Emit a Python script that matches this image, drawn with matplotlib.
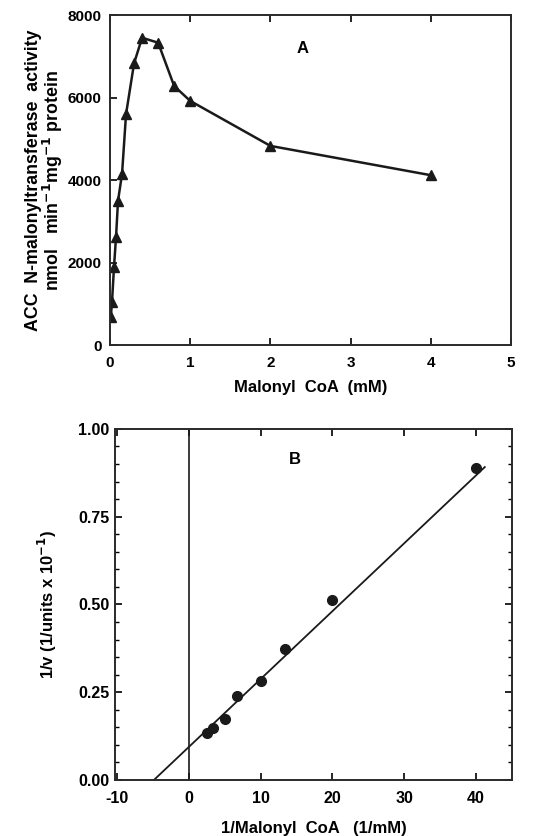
import matplotlib
matplotlib.use("Agg")
import matplotlib.pyplot as plt
import numpy as np
from matplotlib.ticker import MultipleLocator

plt.rcParams['font.family'] = ['Liberation Sans', 'DejaVu Sans']
plt.rcParams['font.weight'] = 'bold'
plt.rcParams['axes.unicode_minus'] = False

# Panel A data
malonyl_mM = [0.01, 0.025, 0.05, 0.075, 0.1, 0.15, 0.2, 0.3, 0.4, 0.6, 0.8, 1.0, 2.0, 4.0]
activity = [680, 1050, 1900, 2620, 3500, 4150, 5600, 6830, 7450, 7330, 6280, 5920, 4830, 4120]

# Panel B data (double reciprocal)
inv_malonyl = [2.5, 3.33, 5.0, 6.67, 10.0, 13.33, 20.0, 40.0]
inv_v = [0.135, 0.149, 0.175, 0.239, 0.282, 0.373, 0.512, 0.888]
fit_slope = 0.01935
fit_intercept = 0.094
fit_x_end = 41.2

fig = plt.figure(figsize=(5.34, 8.36), dpi=100)

axA = fig.add_axes([0.206, 0.587, 0.751, 0.395])
axA.plot(malonyl_mM, activity, color='#1a1a1a', lw=1.8, marker='^', ms=7.5, mec='#1a1a1a', mfc='#1a1a1a')
axA.set_xlim(0, 5)
axA.set_ylim(0, 8000)
axA.set_xticks([0, 1, 2, 3, 4, 5])
axA.set_yticks([0, 2000, 4000, 6000, 8000])
axA.tick_params(axis='x', direction='in', top=True, length=5, width=1.2, labelsize=11, pad=8)
axA.tick_params(axis='y', direction='in', right=False, length=5, width=1.2, labelsize=11, pad=6)
for s in axA.spines.values():
    s.set_linewidth(1.4)
    s.set_color('#2a2a2a')
axA.set_xlabel('Malonyl  CoA  (mM)', fontsize=12, fontweight='bold', labelpad=7)
axA.set_ylabel('ACC  N-malonyltransferase  activity\nnmol   min$^{\\mathbf{-1}}$mg$^{\\mathbf{-1}}$ protein',
               fontsize=12.8, fontweight='bold', labelpad=2, linespacing=0.95)
axA.text(0.479, 0.9, 'A', transform=axA.transAxes, fontsize=12, fontweight='bold', ha='center', va='center')

axB = fig.add_axes([0.215, 0.067, 0.744, 0.42])
xfit = np.array([-fit_intercept / fit_slope, fit_x_end])
axB.plot(xfit, fit_slope * xfit + fit_intercept, color='#1a1a1a', lw=1.3)
axB.axvline(0, color='#1a1a1a', lw=1.2)
axB.plot(inv_malonyl, inv_v, 'o', color='#1a1a1a', ms=7)
axB.set_xlim(-10.3, 45)
axB.set_ylim(0, 1.0)
axB.set_xticks([-10, 0, 10, 20, 30, 40])
axB.set_yticks([0, 0.25, 0.5, 0.75, 1.0])
axB.set_yticklabels(['0.00', '0.25', '0.50', '0.75', '1.00'])
axB.yaxis.set_minor_locator(MultipleLocator(0.05))
axB.tick_params(axis='x', direction='in', top=True, length=5, width=1.2, labelsize=11.5, pad=8)
axB.tick_params(axis='y', which='major', direction='in', right=True, length=5, width=1.2, labelsize=11.5, pad=4)
axB.tick_params(axis='y', which='minor', direction='in', right=True, length=3, width=1.0)
for s in axB.spines.values():
    s.set_linewidth(1.4)
    s.set_color('#2a2a2a')
axB.set_xlabel('1/Malonyl  CoA   (1/mM)', fontsize=12, fontweight='bold', labelpad=11)
axB.set_ylabel('1/v (1/units x 10$^{\\mathbf{-1}}$)', fontsize=12, fontweight='bold', labelpad=14)
axB.text(0.453, 0.912, 'B', transform=axB.transAxes, fontsize=12, fontweight='bold', ha='center', va='center')

fig.savefig('out.png', dpi=100)
